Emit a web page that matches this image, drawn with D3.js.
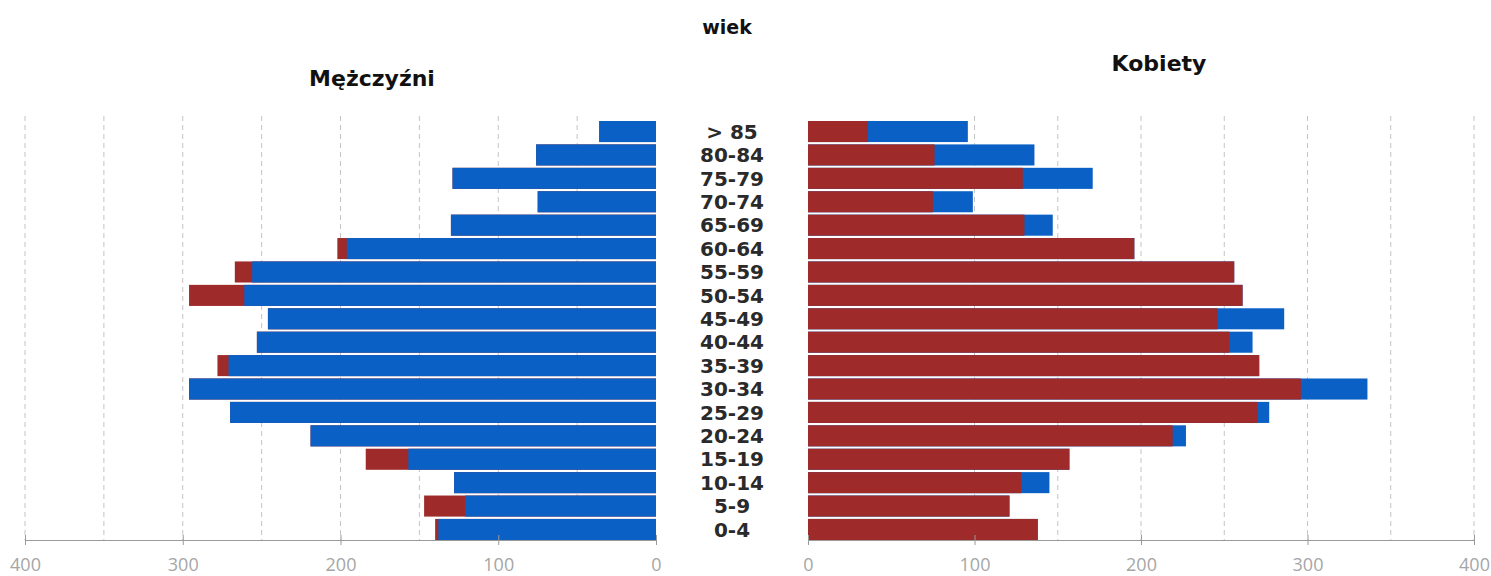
<!DOCTYPE html>
<html><head><meta charset="utf-8">
<script src="https://cdn.jsdelivr.net/npm/d3@7"></script>
<style>body{margin:0;background:#fff}svg{display:block}</style>
</head><body>
<svg id="c" width="1491" height="576"></svg>
<script>
const ages = ["> 85","80-84","75-79","70-74","65-69","60-64","55-59","50-54","45-49","40-44","35-39","30-34","25-29","20-24","15-19","10-14","5-9","0-4"];
const men   = [36,76,129,75,130,202,267,296,246,253,278,296,270,219,184,128,147,140];
const women = [96,136,171,99,147,196,256,261,286,267,271,336,277,227,157,145,121,138];
const tickValues = [0,100,200,300,400];
const gridLeft = [50,100,150,200,250,300,350,400];
const gridRight = [100,150,200,250,300,350,400];
const titleCenter = "wiek", titleLeft = "Mężczyźni", titleRight = "Kobiety";

const BLUE = "#0B60C5", RED = "#9E2A2A";
const svg = d3.select("#c");
const rows = ages.map((a,i)=>({age:a, m:men[i], w:women[i], base:d3.min([men[i],women[i]])}));

const y = d3.scaleBand().domain(ages).range([121,540]).paddingInner(0.1);
const xL = d3.scaleLinear().domain([0,400]).range([656,25]);
const xR = d3.scaleLinear().domain([0,400]).range([808,1474]);

// grid
svg.append("g").selectAll("line").data(gridLeft).join("line")
  .attr("x1",d=>xL(d)).attr("x2",d=>xL(d)).attr("y1",116).attr("y2",540)
  .attr("stroke","#c4c4c4").attr("stroke-dasharray","5,4");
svg.append("g").selectAll("line").data(gridRight).join("line")
  .attr("x1",d=>xR(d)).attr("x2",d=>xR(d)).attr("y1",116).attr("y2",540)
  .attr("stroke","#c4c4c4").attr("stroke-dasharray","5,4");

// left: red (men excess) behind, blue base on top
svg.append("g").selectAll("rect").data(rows).join("rect")
  .attr("x",d=>xL(d.m)).attr("width",d=>xL(0)-xL(d.m))
  .attr("y",d=>y(d.age)).attr("height",y.bandwidth()).attr("fill",RED);
svg.append("g").selectAll("rect").data(rows).join("rect")
  .attr("x",d=>xL(d.base)).attr("width",d=>xL(0)-xL(d.base))
  .attr("y",d=>y(d.age)).attr("height",y.bandwidth()).attr("fill",BLUE);

// right: blue (women excess) behind, red base on top
svg.append("g").selectAll("rect").data(rows).join("rect")
  .attr("x",xR(0)).attr("width",d=>xR(d.w)-xR(0))
  .attr("y",d=>y(d.age)).attr("height",y.bandwidth()).attr("fill",BLUE);
svg.append("g").selectAll("rect").data(rows).join("rect")
  .attr("x",xR(0)).attr("width",d=>xR(d.base)-xR(0))
  .attr("y",d=>y(d.age)).attr("height",y.bandwidth()).attr("fill",RED);

// axes
function styleAxis(g){
  g.select(".domain").attr("stroke","#9a9a9a").attr("stroke-width",1.2);
  g.selectAll(".tick line").attr("stroke","#9a9a9a").attr("y1",-5).attr("y2",5);
  g.selectAll(".tick text").attr("fill","#a6a6a6").attr("font-family","'Open Sans',sans-serif")
    .attr("font-size",18).attr("y",25).attr("dy","0.35em");
}
svg.append("g").attr("transform","translate(0,540)")
  .call(d3.axisBottom(xL).tickValues(tickValues).tickSizeInner(5).tickSizeOuter(0)).call(styleAxis);
svg.append("g").attr("transform","translate(0,540)")
  .call(d3.axisBottom(xR).tickValues(tickValues).tickSizeInner(5).tickSizeOuter(0)).call(styleAxis);

// age labels
svg.append("g").selectAll("text").data(ages).join("text")
  .attr("x",732).attr("y",d=>y(d)+y.bandwidth()/2).attr("dy","0.36em")
  .attr("text-anchor","middle").attr("font-family","'DejaVu Sans',sans-serif")
  .attr("font-weight","bold").attr("font-size",20).attr("fill","#2a2a2a").text(d=>d);

// titles
const tf = "'DejaVu Sans',sans-serif";
svg.append("text").attr("x",727).attr("y",34).attr("text-anchor","middle")
  .attr("font-family",tf).attr("font-weight","bold").attr("font-size",19).attr("fill","#111").text(titleCenter);
svg.append("text").attr("x",372).attr("y",86).attr("text-anchor","middle")
  .attr("font-family",tf).attr("font-weight","bold").attr("font-size",22).attr("fill","#111").text(titleLeft);
svg.append("text").attr("x",1159).attr("y",71).attr("text-anchor","middle")
  .attr("font-family",tf).attr("font-weight","bold").attr("font-size",22).attr("fill","#111").text(titleRight);
</script>
</body></html>
